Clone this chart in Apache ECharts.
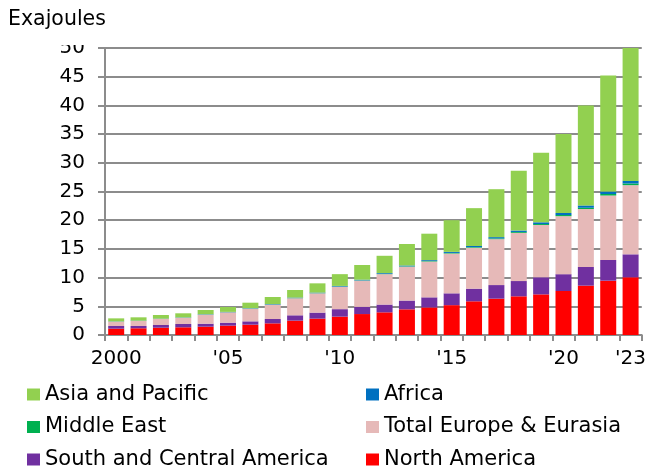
<!DOCTYPE html>
<html>
<head>
<meta charset="utf-8">
<script src="https://cdn.jsdelivr.net/npm/echarts@6/dist/echarts.min.js"></script>
<style>
  html, body { margin: 0; padding: 0; background: #ffffff; }
  #chart { width: 649px; height: 471px; }
</style>
</head>
<body>
<div id="chart"></div>
<script>
// Primary energy from renewables by region, exajoules
const years = [2000, 2001, 2002, 2003, 2004, 2005, 2006, 2007, 2008, 2009, 2010, 2011,
               2012, 2013, 2014, 2015, 2016, 2017, 2018, 2019, 2020, 2021, 2022, 2023];
const labelledYears = [2000, 2005, 2010, 2015, 2020, 2023];
const yTicks = [0, 5, 10, 15, 20, 25, 30, 35, 40, 45, 50];

const northAmerica = [1.10, 1.17, 1.27, 1.34, 1.45, 1.63, 1.80, 2.03, 2.50, 2.85, 3.20, 3.65,
                      3.95, 4.47, 4.80, 5.20, 5.87, 6.33, 6.74, 7.08, 7.67, 8.60, 9.46, 10.05];
const southCentralAmerica = [0.47, 0.40, 0.47, 0.58, 0.52, 0.52, 0.58, 0.76, 0.93, 1.05, 1.30, 1.25,
                             1.35, 1.53, 1.76, 2.06, 2.20, 2.37, 2.66, 2.97, 2.93, 3.25, 3.61, 4.00];
const europeEurasia = [0.75, 0.87, 1.05, 1.08, 1.57, 1.80, 2.20, 2.49, 2.97, 3.36, 3.90, 4.57,
                       5.30, 5.90, 6.24, 6.94, 7.13, 8.00, 8.40, 9.11, 10.10, 10.10, 11.23, 12.05];
const middleEast = [0.01, 0.01, 0.01, 0.02, 0.02, 0.02, 0.02, 0.03, 0.03, 0.03, 0.04, 0.05,
                    0.06, 0.07, 0.08, 0.10, 0.11, 0.13, 0.15, 0.17, 0.20, 0.22, 0.26, 0.30];
const africa = [0.04, 0.05, 0.05, 0.05, 0.06, 0.06, 0.07, 0.08, 0.09, 0.10, 0.11, 0.12,
                0.13, 0.14, 0.16, 0.18, 0.20, 0.22, 0.25, 0.30, 0.35, 0.40, 0.42, 0.45];
const asiaPacific = [0.53, 0.58, 0.63, 0.71, 0.74, 0.85, 0.96, 1.23, 1.32, 1.61, 2.05, 2.56,
                     3.01, 3.74, 4.61, 5.52, 6.59, 8.35, 10.40, 12.13, 13.75, 17.43, 20.22, 23.15];

const FONT = 'DejaVu Sans';
const FS = 20;
const LEGEND_FS = 21;
const GRID_GREY = '#8c8c8c';

const seriesDefs = [
  { name: 'North America', data: northAmerica, color: '#ff0000' },
  { name: 'South and Central America', data: southCentralAmerica, color: '#7030a0' },
  { name: 'Total Europe & Eurasia', data: europeEurasia, color: '#e6b9b8' },
  { name: 'Middle East', data: middleEast, color: '#00b050' },
  { name: 'Africa', data: africa, color: '#0070c0' },
  { name: 'Asia and Pacific', data: asiaPacific, color: '#92d050' }
];

const chart = echarts.init(document.getElementById('chart'), null, { renderer: 'canvas' });

const legendCommon = {
  orient: 'vertical',
  top: 384,
  itemWidth: 13,
  itemHeight: 12,
  itemGap: 11.5,
  itemTextGap: 5,
  icon: 'rect',
  selectedMode: false,
  textStyle: { fontFamily: FONT, fontSize: LEGEND_FS, color: '#000' },
  padding: 0
};

chart.setOption({
  animation: false,
  backgroundColor: '#ffffff',
  grid: { left: 105, right: 4, top: 48, bottom: 136, containLabel: false },
  graphic: [
    {
      type: 'text',
      left: 8,
      top: 9,
      style: { text: 'Exajoules', font: '20.5px "' + FONT + '"', fill: '#000' }
    },
    {
      // trims the top of the uppermost tick label
      type: 'rect',
      z: 100,
      shape: { x: 40, y: 30, width: 60, height: 15 },
      style: { fill: '#ffffff' }
    }
  ],
  legend: [
    Object.assign({}, legendCommon, {
      left: 27,
      data: ['Asia and Pacific', 'Middle East', 'South and Central America']
    }),
    Object.assign({}, legendCommon, {
      left: 366,
      data: ['Africa', 'Total Europe & Eurasia', 'North America']
    })
  ],
  xAxis: {
    type: 'category',
    data: years.map(String),
    boundaryGap: true,
    axisLine: { lineStyle: { color: GRID_GREY, width: 2 } },
    axisTick: {
      show: true,
      interval: 0,
      length: 6,
      lineStyle: { color: GRID_GREY, width: 2 }
    },
    axisLabel: {
      interval: 0,
      margin: 14,
      fontFamily: FONT,
      fontSize: FS,
      color: '#000',
      formatter: function (v) {
        const y = Number(v);
        if (labelledYears.indexOf(y) < 0) return '';
        return y === years[0] ? String(y) : "'" + String(y).slice(2);
      }
    }
  },
  yAxis: {
    type: 'value',
    min: yTicks[0],
    max: yTicks[yTicks.length - 1],
    interval: yTicks[1] - yTicks[0],
    axisLine: { show: true, lineStyle: { color: GRID_GREY, width: 2 } },
    axisTick: { show: true, length: 7, lineStyle: { color: GRID_GREY, width: 2 } },
    splitLine: { lineStyle: { color: GRID_GREY, width: 2 } },
    axisLabel: {
      margin: 20,
      fontFamily: FONT,
      fontSize: FS,
      color: '#000'
    }
  },
  series: seriesDefs.map(function (s) {
    return {
      name: s.name,
      type: 'bar',
      stack: 'total',
      data: s.data,
      barWidth: 16,
      itemStyle: { color: s.color },
      emphasis: { disabled: true }
    };
  })
});
</script>
</body>
</html>
